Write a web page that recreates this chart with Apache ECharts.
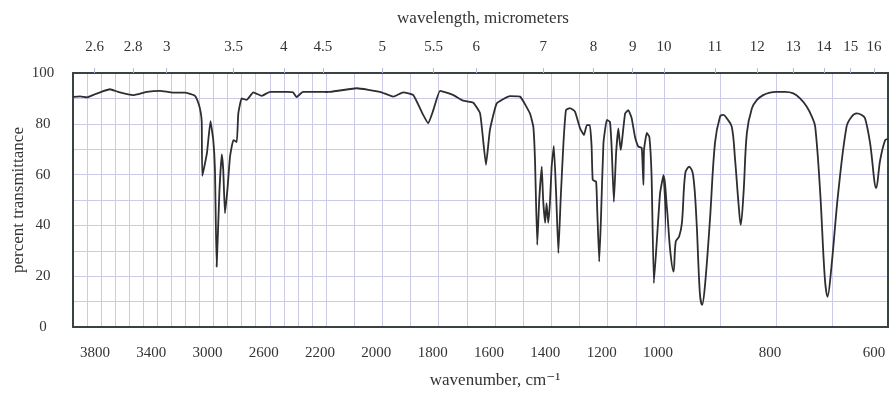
<!DOCTYPE html>
<html><head><meta charset="utf-8">
<script src="https://cdn.jsdelivr.net/npm/echarts@6/dist/echarts.min.js"></script>
<style>html,body{margin:0;padding:0;background:#fff}#c{width:891px;height:394px}</style>
</head><body><div id="c"></div>
<script>
// ---- data ----
const wavenumbers = [4000,3950,3900,3850,3808,3737,3680,3573,3474,3381,3289,3203,3132,3104,3090,3084,3080,3047,3022,3002,2990,2978,2959,2942,2931,2919,2900,2883,2859,2835,2824,2800,2764,2717,2658,2598,2480,2435,2410,2364,2250,2186,2091,2008,1961,1926,1890,1855,1837,1819,1795,1748,1713,1677,1653,1641,1632,1618,1594,1547,1511,1476,1464,1458,1450,1443,1434,1429,1422,1417,1411,1405,1399,1391,1383,1375,1367,1357,1348,1334,1316,1298,1284,1274,1263,1257,1253,1241,1237,1230,1224,1215,1203,1192,1186,1178,1170,1162,1154,1150,1138,1127,1115,1103,1091,1079,1073,1071,1061,1052,1044,1036,1026,1014,1002,995,989,983,979,973,968,962,955,948,942,936,932,927,918,909,900,894,888,879,873,867,863,858,852,843,834,823,811,799,784,769,757,745,736,730,721,713,708,701,689,674,665,656,647,641,632,621,614,605,600];
const transmittance = [90.6,90.8,90.4,91.5,92.4,93.6,92.6,91.3,92.6,93.0,92.3,92.3,91.0,87.5,84,80.5,59.5,68.5,81,73.6,61.8,23.7,52.6,68,61.8,44.8,55,67,73.6,72.8,84,90,89.4,92.4,91,92.6,92.6,92.4,90.5,92.6,92.6,92.6,94,92.6,90.7,92.4,91.3,83.5,80.2,85.4,93,91.3,89.1,88.3,84.1,72.4,63.8,77.6,88,90.9,90.7,84.1,78.9,65.7,32.3,50,63.1,50,41,48.8,41,48.8,63,71.3,52.6,29.1,50,72.4,85.4,86.2,84.8,78.2,75.6,79.5,79.5,71,57.9,57.2,46,25.7,42,72.4,81.5,80.8,71,49.3,68.5,78.2,69.7,72.4,84.1,85.4,82.3,74.9,71,70.5,55.9,69.7,76.4,74.9,59.2,17.3,33,52.6,59.8,47.4,30.3,21.8,33.6,35.6,41,60.6,63.1,59.8,42,13.4,8.7,15.9,42,72.4,82.8,83.5,82.2,78.9,65.7,48.8,40.2,52.6,76.4,86.1,89.4,91.3,92.3,92.6,92.6,92,90,86.7,82.8,78.9,52.6,19.8,11.9,23.7,52.6,78.9,82.8,84.1,83.5,82.2,72.4,54.7,65.7,73.6,74];
const wavenumberTickLabels = [3800,3400,3000,2600,2200,2000,1800,1600,1400,1200,1000,800,600];
const wavelengthTickLabels = [2.6,2.8,3,3.5,4,4.5,5,5.5,6,7,8,9,10,11,12,13,14,15,16];
const yTickLabels = [0,20,40,60,80,100];
const segmentRanges = [[2200,4000],[1000,2200],[600,1000]];

// ---- styling / layout ----
const FONT = '"Liberation Serif", "DejaVu Serif", serif';
const TXT = '#333';
const FRAME = '#3a4242';
const GRIDC = '#c9cbe8';
const boxes = [{left:73,width:253},{left:326,width:338},{left:664,width:224}];
const TOP = 73, H = 254;

const pairs = wavenumbers.map((w,i)=>[w, transmittance[i]]);
const grids = [], xAxes = [], yAxes = [], series = [];

segmentRanges.forEach((r, i) => {
  const [mn, mx] = r;
  grids.push({left: boxes[i].left, top: TOP, width: boxes[i].width, height: H, containLabel: false});
  const isLast = i === segmentRanges.length - 1;
  const bottomVals = wavenumberTickLabels.filter(v => v >= mn && v < mx);
  const topVals = wavelengthTickLabels.map(l => 10000 / l).filter(v => v >= mn && v < mx);
  // bottom wavenumber axis
  xAxes.push({
    type: 'value', gridIndex: i, position: 'bottom', min: mn, max: mx, interval: 100, inverse: true,
    axisLine: {show: true, onZero: false, lineStyle: {color: FRAME, width: 2}},
    axisTick: {show: false},
    splitLine: {show: true, lineStyle: {color: GRIDC, width: 1}},
    axisLabel: {
      customValues: bottomVals, margin: 19, color: TXT, fontFamily: FONT, fontSize: 15,
      formatter: v => (v === 600 ? '{e|' + v + '}' : '{m|' + v + '}'),
      rich: {
        m: {fontFamily: FONT, fontSize: 15, color: TXT, padding: [0, 12, 0, 0]},
        e: {fontFamily: FONT, fontSize: 15, color: TXT, padding: [0, 28, 0, 0]}
      }
    },
    name: i === 1 ? 'wavenumber, cm\u207B\u00B9' : '',
    nameLocation: 'middle', nameGap: 45,
    nameTextStyle: {fontFamily: FONT, fontSize: 17, color: TXT}
  });
  // top wavelength axis
  xAxes.push({
    type: 'value', gridIndex: i, position: 'top', min: mn, max: mx, inverse: true,
    axisLine: {show: true, onZero: false, lineStyle: {color: FRAME, width: 2}},
    axisTick: {show: true, customValues: topVals, length: 5, inside: false, lineStyle: {color: '#b8bbd9'}},
    splitLine: {show: false},
    axisLabel: {
      customValues: topVals, margin: 18, color: TXT, fontFamily: FONT, fontSize: 15,
      formatter: v => String(Math.round(10000 / v * 10) / 10)
    },
    name: i === 1 ? 'wavelength, micrometers' : '',
    nameLocation: 'middle', nameGap: 46,
    nameTextStyle: {fontFamily: FONT, fontSize: 17, color: TXT, padding: [0, 24, 0, 0]}
  });
  yAxes.push({
    type: 'value', gridIndex: i, min: 0, max: 100, interval: 10,
    position: isLast ? 'right' : 'left',
    axisLine: {show: i === 0 || isLast, lineStyle: {color: FRAME, width: 2}},
    axisTick: {show: false},
    splitLine: {show: true, lineStyle: {color: GRIDC, width: 1}},
    axisLabel: {
      show: i === 0, customValues: yTickLabels, margin: 30, align: 'center',
      color: TXT, fontFamily: FONT, fontSize: 15
    },
    name: i === 0 ? 'percent transmittance' : '',
    nameLocation: 'middle', nameGap: 46,
    nameTextStyle: {fontFamily: FONT, fontSize: 17, color: TXT}
  });
  series.push({
    type: 'line', xAxisIndex: i * 2, yAxisIndex: i, data: pairs,
    showSymbol: false, symbol: 'none', clip: true, smooth: isLast ? 0.35 : 0.12,
    lineStyle: {color: '#2e2e2e', width: 1.8}, silent: true, animation: false
  });
});

const chart = echarts.init(document.getElementById('c'), null, {renderer: 'canvas'});
chart.setOption({
  backgroundColor: '#ffffff',
  animation: false,
  grid: grids, xAxis: xAxes, yAxis: yAxes, series: series
});
</script></body></html>
